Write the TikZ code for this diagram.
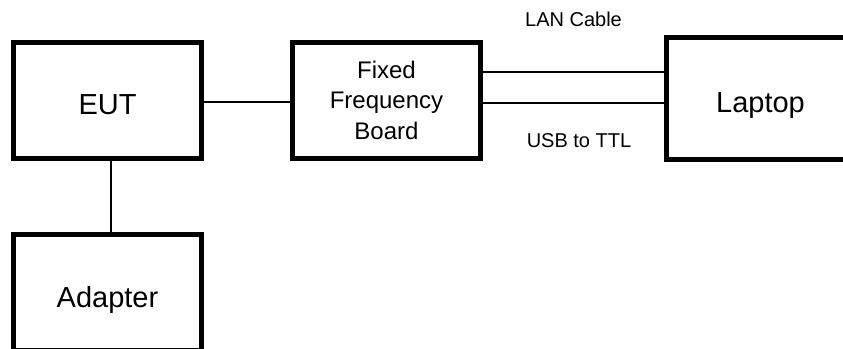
\documentclass[tikz,border=0pt]{standalone}
\usepackage{fontspec}
\setmainfont{Liberation Sans}
\usetikzlibrary{positioning}

\begin{document}
\begin{tikzpicture}[x=1pt, y=-1pt, node distance=90pt,
    unit/.style={draw, line width=5pt, outer sep=0pt, minimum width=188pt, minimum height=116pt, align=center},
    big/.style={font=\fontsize{29}{35}\selectfont, text height=29pt, text depth=0pt},
    small/.style={font=\fontsize{24}{30.5}\selectfont},
    cable/.style={line width=1.8pt},
    tag/.style={font=\fontsize{20}{24}\selectfont, inner sep=0pt}
]
    \clip (0,0) rectangle (843,348);
    \node[unit, big] (eut) at (107.5,100.3) {EUT};
    \node[unit, small, right=91pt of eut] (ffb) {Fixed\\Frequency\\Board};
    \node[unit, big, minimum height=122pt, right=186pt of ffb, yshift=2pt] (laptop) {Laptop};
    \node[unit, big, below=76.6pt of eut] (adapter) {Adapter};
    \draw[cable] ([yshift=-2pt]eut.east) -- ([yshift=-2pt]ffb.west);
    \draw[cable] ([xshift=3.8pt]eut.south) -- ([xshift=3.8pt]adapter.north);
    \draw[cable] ([yshift=28.6pt]ffb.east) -- ([yshift=28.6pt]ffb.east -| laptop.west)
        node[tag, midway, above=44pt] {LAN Cable};
    \draw[cable] ([yshift=-2.4pt]ffb.east) -- ([yshift=-2.4pt]ffb.east -| laptop.west)
        node[tag, midway, below=30pt, xshift=5.5pt] {USB to TTL};
\end{tikzpicture}
\end{document}
